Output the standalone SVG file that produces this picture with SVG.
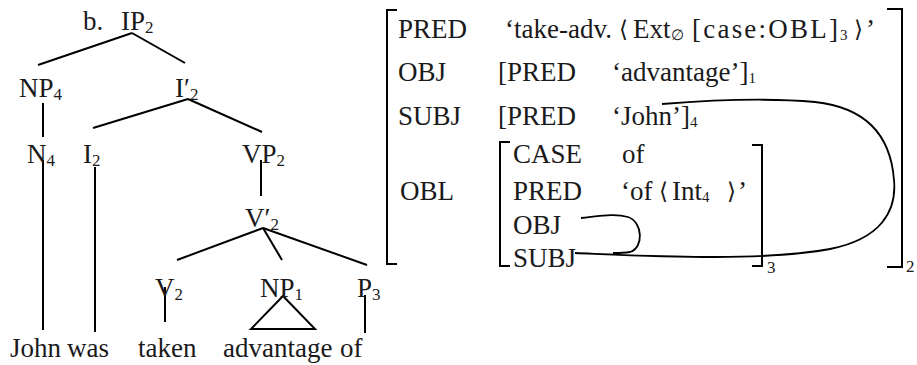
<svg xmlns="http://www.w3.org/2000/svg" width="917" height="365" viewBox="0 0 917 365">
<style>
text{font-family:"Liberation Serif","Times New Roman",serif;font-size:27px;fill:#1a1a1a}
.s{font-size:17px}
.ss{font-size:15px}
.ab{font-family:"DejaVu Serif","Liberation Serif",serif;font-size:23px}
.e{stroke:#000;stroke-width:2;fill:none}
.br{stroke:#000;stroke-width:2;fill:none}
.cv{stroke:#000;stroke-width:1.8;fill:none}
</style>
<rect width="917" height="365" fill="#fff"/>
<g id="tree-edges" class="connectors">
<line class="e" x1="132" y1="33" x2="38" y2="65"/>
<line class="e" x1="132" y1="33" x2="185" y2="63"/>
<line class="e" x1="43" y1="103" x2="43" y2="137"/>
<line class="e" x1="188" y1="99" x2="93" y2="128"/>
<line class="e" x1="188" y1="99" x2="262" y2="132"/>
<line class="e" x1="43" y1="160" x2="43" y2="330"/>
<line class="e" x1="95" y1="167" x2="95" y2="332"/>
<line class="e" x1="261" y1="160" x2="261" y2="196"/>
<line class="e" x1="263" y1="228" x2="177" y2="260"/>
<line class="e" x1="263" y1="228" x2="282" y2="260"/>
<line class="e" x1="263" y1="228" x2="367" y2="265"/>
<line class="e" x1="165" y1="287" x2="165" y2="322"/>
<polygon class="e" points="283,296 251,329 315,329"/>
<line class="e" x1="365" y1="295" x2="365" y2="333"/>
</g>
<g id="n-IP"><text x="83" y="30">b.</text><text x="121" y="30">IP<tspan class="s" dy="3">2</tspan></text></g>
<g id="n-NP4"><text x="19" y="97">NP<tspan class="s" dy="3">4</tspan></text></g>
<g id="n-Ibar"><text x="175" y="97">I′<tspan class="s" dy="3">2</tspan></text></g>
<g id="n-N4"><text x="27" y="163">N<tspan class="s" dy="3">4</tspan></text></g>
<g id="n-I2"><text x="83" y="163">I<tspan class="s" dy="3">2</tspan></text></g>
<g id="n-VP2"><text x="242" y="163">VP<tspan class="s" dy="3">2</tspan></text></g>
<g id="n-Vbar"><text x="245" y="227">V′<tspan class="s" dy="3">2</tspan></text></g>
<g id="n-V2"><text x="155" y="297">V<tspan class="s" dy="3">2</tspan></text></g>
<g id="n-NP1"><text x="260" y="297">NP<tspan class="s" dy="3">1</tspan></text></g>
<g id="n-P3"><text x="357" y="297">P<tspan class="s" dy="3">3</tspan></text></g>
<g id="words">
<text x="10" y="357">John</text>
<text x="67" y="357">was</text>
<text x="138" y="357">taken</text>
<text x="223" y="357">advantage</text>
<text x="340" y="357">of</text>
</g>
<g id="fstructure">
<path class="br" d="M397,10 H387 V264 H397"/>
<path class="br" d="M887,9 H902 V267 H887"/>
<text class="s" x="906" y="272">2</text>
<text x="398" y="38">PRED</text>
<text x="505" y="38">‘take-adv.</text>
<text class="ab" x="619" y="37">⟨</text>
<text x="633" y="38">Ext<tspan class="ss" dy="2">∅</tspan></text>
<text x="692" y="38" textLength="146" lengthAdjust="spacing">[case:OBL]</text>
<text class="ss" x="840" y="40">3</text>
<text class="ab" x="854" y="37">⟩</text>
<text x="866" y="38">’</text>
<text x="398" y="81">OBJ</text>
<text x="498" y="81">[PRED</text>
<text x="612" y="81">‘advantage’]<tspan class="ss" dy="2">1</tspan></text>
<text x="398" y="125">SUBJ</text>
<text x="498" y="125">[PRED</text>
<text x="612" y="125">‘John’]<tspan class="ss" dy="2">4</tspan></text>
<text x="400" y="200">OBL</text>
<g id="obl">
<path class="br" d="M510,142 H500 V266 H510"/>
<path class="br" d="M752,145 H762 V266 H752"/>
<text class="s" x="767" y="273">3</text>
<text x="513" y="163">CASE</text>
<text x="622" y="163">of</text>
<text x="513" y="200">PRED</text>
<text x="621" y="200">‘of</text>
<text class="ab" x="659" y="199">⟨</text>
<text x="672" y="200">Int<tspan class="ss" dy="2">4</tspan></text>
<text class="ab" x="727" y="199">⟩</text>
<text x="738" y="200">’</text>
<text x="513" y="234">OBJ</text>
<text x="513" y="267">SUBJ</text>
</g>
</g>
<g id="links" class="connectors">
<path class="cv" d="M581,218 C600,216 615,213 628,217 C643,222 644,248 630,252 C624,253 619,253 613,253"/>
<path class="cv" d="M575,253 C650,256 760,262 830,249 C880,239 897,212 894,180 C891,140 870,108 815,102 C760,97 700,101 662,104"/>
</g>
</svg>
